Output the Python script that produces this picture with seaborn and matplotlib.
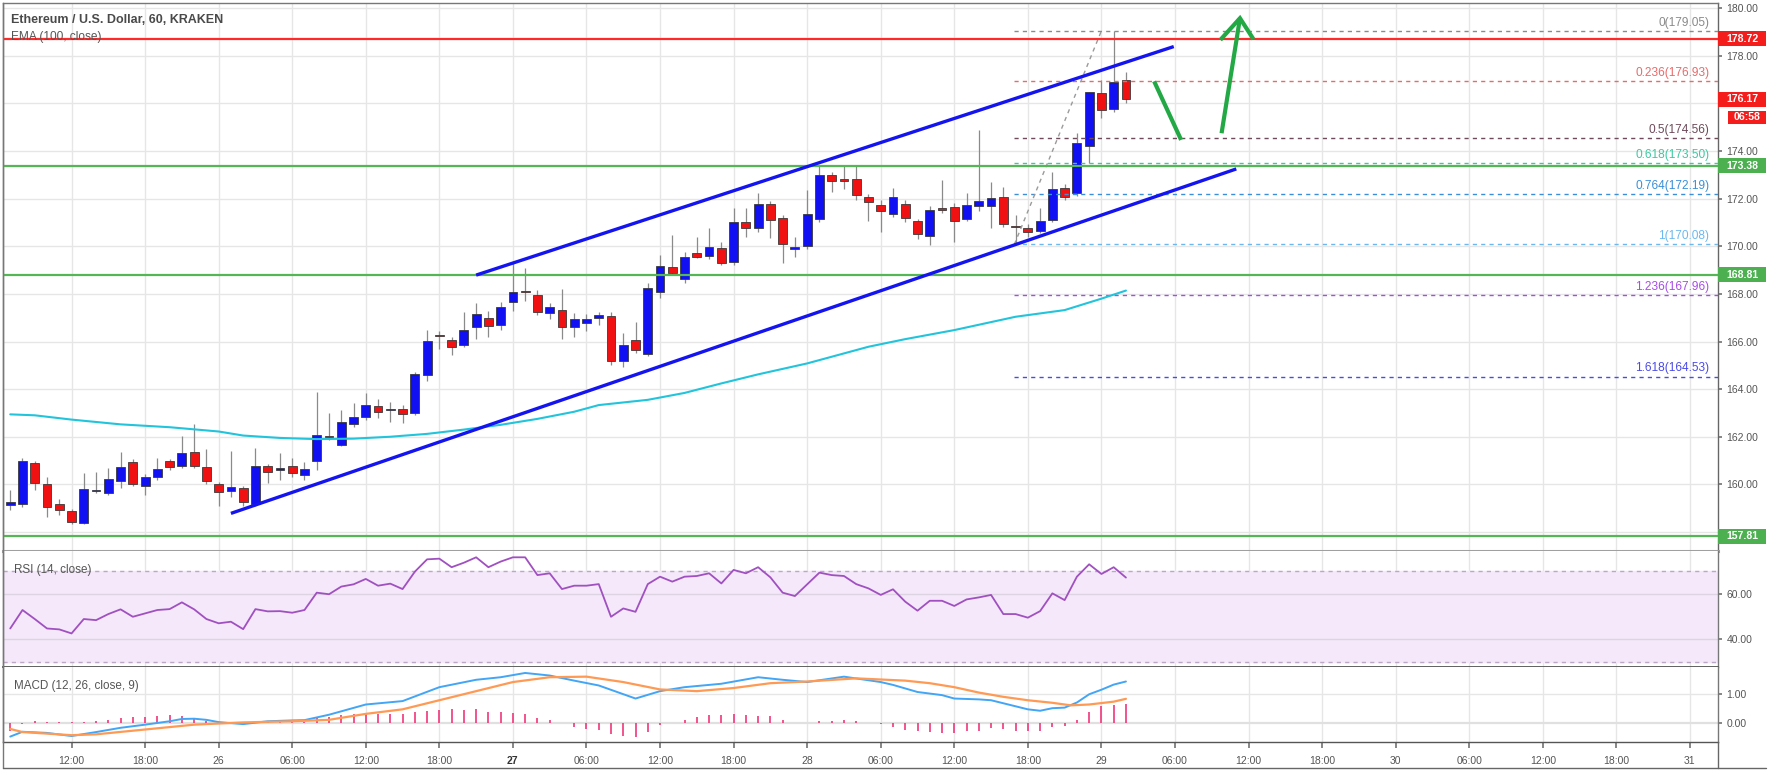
import numpy as np
import pandas as pd
import matplotlib
matplotlib.use("Agg")
import matplotlib.pyplot as plt
import seaborn as sns
from matplotlib.lines import Line2D
from matplotlib.patches import Rectangle

# ---------------- data (hours relative to 26th 00:00, hourly candles) ----------------
hours = list(range(-17, 75))
opens = [159.12, 159.16, 160.88, 160.01, 159.17, 158.89, 158.39, 159.70, 159.65, 160.15, 160.92, 159.94,
         160.29, 160.98, 160.78, 161.37, 160.74, 160.01, 159.73, 159.83, 159.17, 160.78, 160.60, 160.78,
         160.38, 160.99, 162.01, 161.65, 162.53, 162.84, 163.29, 163.12, 163.16, 162.98, 164.58, 166.26,
         166.06, 165.85, 166.60, 167.00, 166.69, 167.65, 168.14, 167.95, 167.18, 167.32, 166.62, 166.76, 167.00,
         167.09, 165.20, 166.06, 165.48, 168.09, 169.14, 168.63, 169.70, 169.59, 169.94, 169.35, 171.00,
         170.76, 171.78, 171.17, 169.90, 170.01, 171.13, 172.99, 172.83, 172.83, 172.06, 171.73, 171.36,
         171.78, 171.06, 170.43, 171.62, 171.64, 171.15, 171.69, 171.69, 172.08, 170.87, 170.78, 170.64,
         171.11, 172.44, 172.23, 174.22, 176.43, 175.75, 176.99]
highs = [159.76, 161.10, 161.00, 160.32, 159.40, 158.95, 160.46, 160.53, 160.67, 161.37, 161.05, 160.45,
         161.10, 161.08, 162.03, 162.53, 161.50, 160.10, 161.40, 159.95, 161.51, 160.86, 161.30, 161.10,
         160.92, 163.89, 162.98, 163.12, 163.40, 163.82, 163.60, 163.48, 163.35, 164.73, 166.48, 166.45,
         166.20, 167.25, 167.62, 167.30, 167.68, 169.28, 169.08, 168.15, 167.60, 168.20, 167.20, 167.15, 167.25,
         167.25, 166.34, 166.83, 168.45, 169.63, 170.48, 169.75, 170.40, 170.75, 170.20, 171.60, 171.60,
         172.23, 171.90, 171.30, 170.40, 172.37, 173.42, 173.10, 173.40, 173.42, 172.20, 171.95, 172.44,
         171.95, 171.15, 171.70, 172.79, 171.80, 172.23, 174.89, 172.72, 172.50, 171.30, 170.95, 171.60,
         173.14, 172.60, 174.75, 176.50, 177.00, 179.05, 177.34]
lows = [158.92, 159.05, 159.76, 158.64, 158.72, 158.35, 158.35, 159.62, 159.55, 159.85, 159.95, 159.55,
        160.20, 160.60, 160.70, 160.70, 160.00, 159.08, 159.45, 159.10, 159.10, 160.05, 160.20, 160.30,
        160.18, 160.60, 161.85, 161.60, 162.40, 162.70, 162.80, 162.62, 162.56, 162.90, 164.33, 165.70,
        165.45, 165.75, 166.10, 166.20, 166.50, 167.30, 167.70, 167.10, 166.95, 166.12, 166.20, 166.45, 166.70,
        165.01, 164.94, 165.50, 165.40, 167.82, 168.80, 168.45, 169.50, 169.45, 169.20, 169.20, 170.40,
        170.60, 170.34, 169.28, 169.55, 169.90, 171.00, 172.30, 172.40, 171.95, 171.05, 170.60, 171.25,
        171.00, 170.30, 170.05, 171.40, 170.20, 171.05, 171.50, 170.75, 170.80, 170.08, 170.40, 170.55,
        171.00, 171.95, 172.10, 173.50, 175.38, 175.65, 176.01]
closes = [159.24, 160.99, 160.07, 159.06, 158.92, 158.43, 159.82, 159.74, 160.22, 160.74, 160.01, 160.29,
          160.66, 160.74, 161.33, 160.78, 160.15, 159.69, 159.87, 159.27, 160.78, 160.53, 160.68, 160.49,
          160.63, 162.07, 161.99, 162.63, 162.84, 163.33, 163.02, 163.17, 162.96, 164.63, 166.03, 166.23,
          165.78, 166.48, 167.14, 166.67, 167.44, 168.07, 168.07, 167.23, 167.44, 166.62, 166.93, 166.95, 167.10,
          165.20, 165.85, 165.64, 168.23, 169.17, 168.87, 169.57, 169.57, 169.99, 169.31, 171.00, 170.78,
          171.78, 171.11, 170.10, 169.95, 171.36, 172.99, 172.74, 172.74, 172.16, 171.85, 171.48, 172.06,
          171.20, 170.50, 171.53, 171.53, 171.06, 171.73, 171.90, 172.02, 170.92, 170.82, 170.62, 171.08,
          172.41, 172.09, 174.33, 176.47, 175.73, 176.92, 176.17]

ema_hours = [-17, -15, -12, -8, -4, 0, 2, 5, 8, 11, 14, 17, 20, 23, 26, 29, 31, 35, 38, 41, 44, 48,
             53, 56, 60, 65, 69, 72, 74]
ema_values = [162.94, 162.90, 162.72, 162.52, 162.40, 162.22, 162.05, 161.95, 161.90, 161.92, 162.00,
              162.12, 162.30, 162.50, 162.75, 163.05, 163.33, 163.55, 163.84, 164.24, 164.62, 165.08,
              165.78, 166.10, 166.48, 167.04, 167.32, 167.80, 168.14]

rsi_values = [44.7, 52.9, 48.9, 44.7, 44.3, 42.5, 48.9, 48.4, 51.1, 53.2, 49.9, 51.4,
              52.9, 53.3, 56.3, 53.2, 48.9, 47.0, 47.7, 44.4, 53.3, 52.3, 52.4, 51.7,
              52.9, 60.6, 59.9, 63.3, 64.3, 66.7, 63.7, 64.6, 62.2, 69.9, 75.4, 75.7,
              71.9, 73.9, 76.3, 71.9, 74.4, 76.3, 76.3, 68.4, 69.2, 62.2, 63.7, 63.7,
              64.4, 49.9, 53.6, 52.1, 64.4, 67.7, 65.5, 67.7, 68.0, 69.2, 64.7, 70.7,
              69.2, 71.9, 67.4, 60.6, 59.1, 64.3, 69.5, 68.4, 68.0, 64.4, 62.5, 59.6,
              62.1, 56.6, 52.6, 57.0, 57.0, 54.7, 57.6, 58.5, 59.6, 51.1, 51.1, 49.5,
              52.4, 60.3, 57.3, 67.7, 73.2, 68.9, 71.9, 67.3]

macd_hours = [-17, -16, -14, -12, -10, -8, -6, -4, -3, -2, -1, 0, 2, 4, 6, 7, 9, 12, 15, 18, 21, 23,
              25, 27, 29, 31, 34, 36, 38, 41, 44, 46, 48, 51, 54, 55, 57, 59, 60, 62, 63, 66, 67, 68,
              69, 70, 71, 72, 73, 74]
macd_values = [-0.49, -0.32, -0.36, -0.47, -0.33, -0.18, -0.07, 0.05, 0.13, 0.14, 0.10, 0.02, -0.05,
               0.05, 0.08, 0.09, 0.28, 0.64, 0.76, 1.25, 1.51, 1.60, 1.75, 1.66, 1.48, 1.31, 0.85, 1.11,
               1.25, 1.37, 1.60, 1.51, 1.43, 1.62, 1.43, 1.33, 1.08, 0.97, 0.85, 0.82, 0.79, 0.47, 0.42,
               0.51, 0.53, 0.71, 1.00, 1.16, 1.34, 1.45]
signal_hours = [-17, -16, -12, -10, -6, -2, 2, 6, 9, 12, 15, 18, 21, 24, 27, 30, 33, 36, 39, 42, 45,
                48, 52, 55, 56, 58, 60, 62, 64, 66, 68, 69.5, 71, 73, 74]
signal_values = [-0.22, -0.33, -0.44, -0.41, -0.24, -0.07, 0.01, 0.05, 0.10, 0.31, 0.47, 0.79, 1.11,
                 1.43, 1.60, 1.62, 1.43, 1.17, 1.11, 1.22, 1.39, 1.45, 1.56, 1.50, 1.48, 1.39, 1.25,
                 1.06, 0.91, 0.79, 0.70, 0.61, 0.64, 0.74, 0.84]
hist_values = [-0.28, -0.05, 0.06, 0.03, 0.02, 0.02, 0.02, 0.06, 0.09, 0.18, 0.21, 0.21,
               0.24, 0.26, 0.23, 0.15, 0.06, 0.01, 0.01, -0.01, 0.02, 0.02, 0.03, 0.03,
               0.03, 0.15, 0.21, 0.26, 0.30, 0.32, 0.32, 0.30, 0.32, 0.38, 0.41, 0.44,
               0.47, 0.44, 0.47, 0.38, 0.36, 0.34, 0.30, 0.15, 0.09, -0.02, -0.16, -0.23,
               -0.25, -0.39, -0.46, -0.51, -0.34, -0.08, 0.00, 0.11, 0.21, 0.26, 0.26, 0.29,
               0.26, 0.24, 0.23, 0.09, -0.02, 0.00, 0.06, 0.07, 0.09, 0.06, 0.00, -0.05,
               -0.16, -0.25, -0.31, -0.34, -0.37, -0.37, -0.31, -0.28, -0.20, -0.23, -0.28, -0.31,
               -0.29, -0.16, -0.11, 0.09, 0.38, 0.57, 0.64, 0.67]

red_level = 178.72
green_levels = [173.38, 168.81, 157.81]
fib_ratios = ["0", "0.236", "0.5", "0.618", "0.764", "1", "1.236", "1.618"]
fib_prices = [179.05, 176.93, 174.56, 173.50, 172.19, 170.08, 167.96, 164.53]
fib_colors = ["#8a8a8a", "#e86a6a", "#6e4a5a", "#3cc9a0", "#3a8fd8", "#6cb8ee", "#a64de6", "#4a4ae8"]
upper_channel = ([21.0, 77.9], [168.79, 178.39])
lower_channel = ([1.0, 83.0], [158.78, 173.25])
down_arrow = ([76.3, 78.5], [176.93, 174.47])
up_arrow = ([81.8, 83.3], [174.75, 179.58])
up_head = ([81.7, 83.3, 84.4], [178.67, 179.58, 178.70])
fib_anchor = ([64.9, 72.0], [170.08, 179.05])

price_ticks = [158, 160, 162, 164, 166, 168, 170, 172, 174, 176, 178, 180]
price_tick_labels_hidden = [158, 176]
time_ticks = list(range(-12, 121, 6))
day_names = {0: "26", 24: "27", 48: "28", 72: "29", 96: "30", 120: "31"}

# ---------------- style ----------------
sns.set_theme(style="white")
plt.rcParams["font.family"] = ["Liberation Sans", "DejaVu Sans"]

W, H = 1768, 772
fig = plt.figure(figsize=(W / 100, H / 100), dpi=100)
fig.patch.set_facecolor("white")


def rect(x0, y0, x1, y1):
    return [x0 / W, 1 - y1 / H, (x1 - x0) / W, (y1 - y0) / H]


ax = fig.add_axes(rect(3, 3, 1718, 551))
axr = fig.add_axes(rect(3, 551, 1718, 667))
axm = fig.add_axes(rect(3, 667, 1718, 742))

XMIN, XMAX = -17.59, 122.29
for a in (ax, axr, axm):
    a.set_xlim(XMIN, XMAX)
    a.set_facecolor("white")
    for t in time_ticks:
        a.axvline(t, color="#e6e6e6", lw=1.0, zorder=0)
    a.yaxis.tick_right()
    a.tick_params(axis="y", direction="out", length=3, color="#777", labelsize=7.5,
                  labelcolor="#555", pad=3)
    for s in a.spines.values():
        s.set_color("#777")
        s.set_linewidth(1.0)

ax.set_ylim(157.20, 180.22)
axr.set_ylim(27.6, 79.1)
axm.set_ylim(-0.68, 1.96)

# ---------------- main panel ----------------
for p in price_ticks:
    ax.axhline(p, color="#e6e6e6", lw=1.0, zorder=0)
shown = [p for p in price_ticks if p not in price_tick_labels_hidden]
ax.set_yticks(shown)
ax.set_yticklabels([f"{p:.2f}" for p in shown])
ax.set_xticks([])
ax.spines["bottom"].set_color("#a0a0a0")
ax.spines["bottom"].set_linewidth(2.2)
ax.spines["right"].set_color("#666")

df = pd.DataFrame({"hour": hours, "open": opens, "high": highs, "low": lows, "close": closes})
up = df["close"] >= df["open"]
ax.vlines(df["hour"], df["low"], df["high"], color="#8a8a8a", lw=0.9, zorder=2)
body = (df["close"] - df["open"]).abs().clip(lower=0.05)
ax.bar(df["hour"], body, bottom=np.minimum(df["open"], df["close"]), width=0.72,
       color=np.where(up, "#1010f2", "#f01212"), edgecolor="#3a3a3a", linewidth=0.6, zorder=3)

# EMA
sns.lineplot(x=ema_hours, y=ema_values, ax=ax, color="#22c4dc", lw=1.5, sort=False, zorder=4)

# horizontal levels
ax.axhline(red_level, color="#ff2a2a", lw=1.6, zorder=4)
for g in green_levels:
    ax.axhline(g, color="#55b655", lw=1.6, zorder=4)

# fib levels
for r, p, c in zip(fib_ratios, fib_prices, fib_colors):
    ax.hlines(p, fib_anchor[0][0], XMAX, colors=c, lw=1.0, linestyles=(0, (3, 3)), zorder=3)
    ax.annotate(f"{r}({p:.2f})", xy=(121.6, p), xytext=(0, 1.5), textcoords="offset points",
                ha="right", va="bottom", color=c, fontsize=8.6, zorder=6)
ax.plot(fib_anchor[0], fib_anchor[1], color="#9a9a9a", lw=1.0, ls=(0, (3, 3)), zorder=3)

# channel
ax.plot(*upper_channel, color="#1414f0", lw=2.4, solid_capstyle="butt", zorder=5)
ax.plot(*lower_channel, color="#1414f0", lw=2.4, solid_capstyle="butt", zorder=5)

# arrows
ax.plot(*down_arrow, color="#22a844", lw=3.0, solid_capstyle="butt", zorder=5)
ax.plot(*up_arrow, color="#22a844", lw=3.0, solid_capstyle="butt", zorder=5)
ax.plot(*up_head, color="#22a844", lw=3.0, solid_capstyle="butt", solid_joinstyle="miter", zorder=5)

fig.text(11 / W, 1 - 20 / H, "Ethereum / U.S. Dollar, 60, KRAKEN", fontsize=9.0,
         fontweight="bold", color="#4a4a4a", ha="left", va="center")
fig.text(11 / W, 1 - 37 / H, "EMA (100, close)", fontsize=8.6, color="#555555",
         ha="left", va="center")

# ---------------- RSI ----------------
axr.axhspan(30, 70, color="#f4e8fa", zorder=0)
for v in (60, 40):
    axr.axhline(v, color="#dcd4e0", lw=1.0, zorder=1)
for v in (70, 30):
    axr.axhline(v, color="#bba8c4", lw=1.0, ls=(0, (3, 3)), zorder=1)
sns.lineplot(x=hours, y=rsi_values, ax=axr, color="#a050c0", lw=1.3, sort=False, zorder=3)
axr.set_yticks([60, 40])
axr.set_yticklabels(["60.00", "40.00"])
axr.set_xticks([])
axr.spines["bottom"].set_color("#555")
axr.spines["bottom"].set_linewidth(1.3)
axr.spines["top"].set_visible(False)
axr.text(11 / 1715, 0.84, "RSI (14, close)", transform=axr.transAxes, fontsize=8.4,
         color="#555555", ha="left", va="center")

# ---------------- MACD ----------------
axm.axhline(1.0, color="#e6e6e6", lw=1.0, zorder=0)
axm.axhline(0.0, color="#e0e0e0", lw=1.6, zorder=0)
axm.vlines(hours, 0, hist_values, color="#f0367a", lw=1.2, zorder=2)
sns.lineplot(x=macd_hours, y=macd_values, ax=axm, color="#42a5f5", lw=1.4, sort=False, zorder=3)
sns.lineplot(x=signal_hours, y=signal_values, ax=axm, color="#ff9a55", lw=1.6, sort=False, zorder=3)
axm.set_yticks([1.0, 0.0])
axm.set_yticklabels(["1.00", "0.00"])
axm.spines["top"].set_visible(False)
axm.spines["bottom"].set_color("#555")
labels = [day_names.get(t, f"{t % 24:02d}:00") for t in time_ticks]
axm.set_xticks(time_ticks)
axm.set_xticklabels(labels)
axm.tick_params(axis="x", direction="out", length=4, color="#777", labelsize=7.5,
                labelcolor="#555", pad=6, bottom=True)
for lab in axm.get_xticklabels():
    if lab.get_text() == "27":
        lab.set_fontweight("bold")
        lab.set_color("#333")
axm.text(11 / 1715, 0.75, "MACD (12, 26, close, 9)", transform=axm.transAxes, fontsize=8.4,
         color="#555555", ha="left", va="center")

for a in (axr, axm):
    a.set_ylabel("")
ax.set_ylabel("")

# ---------------- price boxes on the right axis ----------------
fig.canvas.draw()


def price_box(axis, val, color, text=None, x0=1718, x1=1766, h=15):
    yfig = axis.transData.transform((0, val))[1]
    fig.add_artist(Rectangle((x0 / W, (yfig - h / 2) / H), (x1 - x0) / W, h / H,
                             transform=fig.transFigure, facecolor=color, edgecolor="none", zorder=10))
    fig.text((x0 + x1) / 2 / W, yfig / H, text if text else f"{val:.2f}", color="white",
             ha="center", va="center", fontsize=7.6, fontweight="bold", zorder=11)


price_box(ax, red_level, "#f51c1c")
price_box(ax, closes[-1], "#f51c1c")
for g in green_levels:
    price_box(ax, g, "#4caf50")
fig.add_artist(Rectangle((1728 / W, 1 - 124 / H), 38 / W, 13 / H, transform=fig.transFigure,
                         facecolor="#f51c1c", edgecolor="none", zorder=10))
fig.text(1747 / W, 1 - 117.5 / H, "06:58", color="white", ha="center", va="center",
         fontsize=7.6, fontweight="bold", zorder=11)

# frame lines
fig.add_artist(Line2D([3 / W, 3 / W], [1 - 3 / H, 1 - 768 / H], color="#777", lw=1.0))
fig.add_artist(Line2D([1718 / W, 1718 / W], [1 - 742 / H, 1 - 768 / H], color="#666", lw=1.0))
fig.add_artist(Line2D([3 / W, 1766 / W], [1 - 768 / H, 1 - 768 / H], color="#666", lw=1.0))

fig.savefig("out.png", dpi=100, facecolor="white")
